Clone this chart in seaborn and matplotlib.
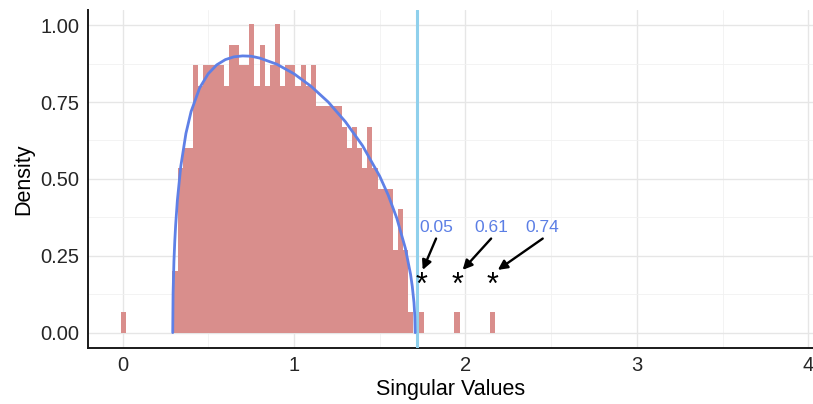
import numpy as np
import pandas as pd
import matplotlib
matplotlib.use('Agg')
import matplotlib.pyplot as plt
from matplotlib.ticker import MultipleLocator, FormatStrFormatter
import seaborn as sns

# ----------------------------------------------------------------------------------
# Dane
# ----------------------------------------------------------------------------------

# histogram: szerokosc kubelka, lewa krawedz pierwszego kubelka, numery kubelkow i liczebnosci
bin_width = 0.0299
first_edge = -0.0077
bin_index = [0, 10, 11, 12, 13, 14, 15, 16, 17, 18, 19, 20, 21, 22, 23, 24, 25,
             26, 27, 28, 29, 30, 31, 32, 33, 34, 35, 36, 37, 38, 39, 40, 41, 42,
             43, 44, 45, 46, 47, 48, 49, 50, 51, 52, 53, 54, 55, 56, 58, 65, 72]
bin_count = [1, 3, 8, 9, 9, 13, 12, 13, 13, 13, 13, 12, 14, 14, 13, 13, 15,
             12, 14, 12, 13, 15, 12, 13, 13, 12, 13, 12, 13, 11, 11, 11, 11, 11,
             10, 9, 10, 9, 8, 10, 8, 7, 7, 7, 4, 6, 4, 1, 1, 1, 1]

# gestosc teoretyczna (krzywa) - punkty
curve_x = [0.293, 0.295, 0.30, 0.305, 0.31, 0.32, 0.34, 0.37, 0.40, 0.45, 0.50,
           0.55, 0.60, 0.65, 0.70, 0.75, 0.80, 0.90, 1.00, 1.10, 1.20, 1.30,
           1.40, 1.50, 1.55, 1.60, 1.65, 1.68, 1.69, 1.70, 1.705, 1.707]
curve_y = [0.0, 0.128, 0.232, 0.298, 0.350, 0.430, 0.541, 0.648, 0.719, 0.796, 0.842,
           0.871, 0.888, 0.897, 0.900, 0.899, 0.893, 0.873, 0.842, 0.801, 0.750, 0.686,
           0.608, 0.509, 0.447, 0.372, 0.274, 0.190, 0.151, 0.098, 0.053, 0.0]

upper_edge = 1.72

# odstajace wartosci osobliwe i ich etykiety
star_x = [1.744, 1.953, 2.160]
star_y = [0.125, 0.125, 0.125]
labels = ['0.05', '0.61', '0.74']
label_x = [1.829, 2.150, 2.451]
label_y = [0.327, 0.327, 0.327]
arrow_from_y = 0.306
arrow_to_x = [1.751, 1.984, 2.189]
arrow_to_y = 0.204

# ----------------------------------------------------------------------------------
# Wykres
# ----------------------------------------------------------------------------------

sns.set_style('white')
plt.rcParams['font.family'] = ['Liberation Sans', 'DejaVu Sans']

fig, ax = plt.subplots(figsize=(8.13, 4.04), dpi=100)
fig.subplots_adjust(left=0.1085, right=0.9995, bottom=0.139, top=0.975)

n_bins = max(bin_index) + 1
centers = first_edge + bin_width * (np.array(bin_index) + 0.5)
hist_df = pd.DataFrame({'x': centers, 'n': bin_count})

sns.histplot(data=hist_df, x='x', weights='n', binwidth=bin_width,
             binrange=(first_edge, first_edge + n_bins * bin_width), stat='density',
             color='#d98e8c', alpha=1, edgecolor='none', linewidth=0, ax=ax, zorder=2)

ax.axvline(upper_edge, color='#8fd0ec', lw=2.2, zorder=3)

sns.lineplot(x=curve_x, y=curve_y, color='#5f80e6', lw=2.0, ax=ax, zorder=4,
             sort=False, estimator=None)

for sx, sy in zip(star_x, star_y):
    ax.text(sx, sy, '*', fontsize=22, ha='center', va='baseline', color='black', zorder=5)

for lab, lx, ly, tx in zip(labels, label_x, label_y, arrow_to_x):
    ax.text(lx, ly, lab, fontsize=12.5, ha='center', va='baseline', color='#5b7ee5', zorder=5)
    ax.annotate('', xy=(tx, arrow_to_y), xytext=(lx, arrow_from_y),
                arrowprops=dict(arrowstyle='-|>', color='black', lw=1.7,
                                mutation_scale=14, shrinkA=0, shrinkB=0), zorder=5)

ax.set_xlim(-0.2, 4.025)
ax.set_ylim(-0.0495, 1.049)
ax.xaxis.set_major_locator(MultipleLocator(1))
ax.xaxis.set_minor_locator(MultipleLocator(0.5))
ax.yaxis.set_major_locator(MultipleLocator(0.25))
ax.yaxis.set_minor_locator(MultipleLocator(0.125))
ax.yaxis.set_major_formatter(FormatStrFormatter('%.2f'))

ax.grid(which='major', color='#e6e6e6', lw=1.0, zorder=0)
ax.grid(which='minor', color='#f1f1f1', lw=0.6, zorder=0)
ax.set_axisbelow(True)

for side in ['top', 'right']:
    ax.spines[side].set_visible(False)
for side in ['left', 'bottom']:
    ax.spines[side].set_color('#1a1a1a')
    ax.spines[side].set_linewidth(1.4)

ax.tick_params(which='major', length=3.6, width=1, color='#333333',
               labelsize=14.5, labelcolor='#262626', pad=2.5)
ax.tick_params(which='minor', length=0)

ax.set_xlabel('Singular Values', fontsize=15.5, color='black', labelpad=3)
ax.set_ylabel('Density', fontsize=15.5, color='black', labelpad=5)

fig.savefig('out.png', dpi=100)
